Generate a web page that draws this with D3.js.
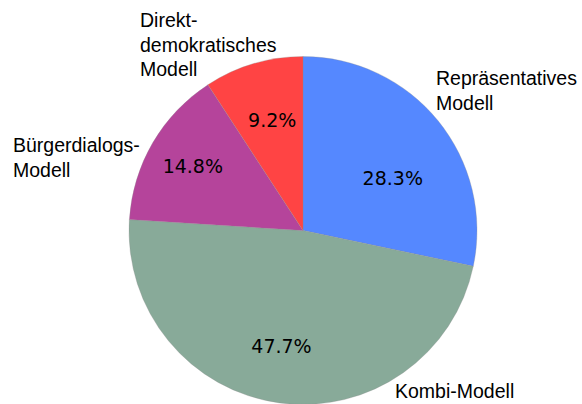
<!DOCTYPE html>
<html>
<head>
<meta charset="utf-8">
<script src="https://cdn.jsdelivr.net/npm/d3@7"></script>
<style>
  html, body { margin: 0; padding: 0; background: #fff; }
  svg { display: block; }
</style>
</head>
<body>
<div id="chart"></div>
<script>
// data
const categories = [
    ["Repräsentatives", "Modell"],
    ["Kombi-Modell"],
    ["Bürgerdialogs-", "Modell"],
    ["Direkt-", "demokratisches", "Modell"]
];
const values = [28.3, 47.7, 14.8, 9.2];
const colors = ["#5588ff", "#88aa99", "#b5449b", "#ff4444"];

const width = 582, height = 404;
const cx = 303, cy = 230.5, radius = 174;

// nudges from the arc centroid for the percent labels (px)
const pctNudge = [[6, 16], [-7, 9], [-17, -10], [0, -7]];
// outer name labels, offsets from the pie centre (px)
const nameOffset = [[133, -145.5], [92, 167.5], [-290, -78.5], [-163, -203.5]];

const svg = d3.select("#chart").append("svg")
    .attr("width", width)
    .attr("height", height);

const g = svg.append("g")
    .attr("transform", `translate(${cx}, ${cy})`);

const pie = d3.pie()
    .sort(null)
    .value(d => d);

const arcs = pie(values);

const arc = d3.arc()
    .innerRadius(0)
    .outerRadius(radius);

const labelArc = d3.arc()
    .innerRadius(radius * 0.62)
    .outerRadius(radius * 0.62);

g.selectAll("path")
    .data(arcs)
    .join("path")
    .attr("d", arc)
    .attr("fill", (d, i) => colors[i])
    .attr("stroke", "#8a8a8a")
    .attr("stroke-width", 0.3);

g.selectAll("text.pct")
    .data(arcs)
    .join("text")
    .attr("class", "pct")
    .attr("transform", (d, i) => {
        const c = labelArc.centroid(d);
        return `translate(${c[0] + pctNudge[i][0]}, ${c[1] + pctNudge[i][1]})`;
    })
    .attr("text-anchor", "middle")
    .attr("dy", "0.36em")
    .style("font-family", "DejaVu Sans, sans-serif")
    .style("font-size", "19px")
    .attr("fill", "#000")
    .text(d => d3.format(".1f")(d.data) + "%");

const names = g.selectAll("text.name")
    .data(categories)
    .join("text")
    .attr("class", "name")
    .attr("x", (d, i) => nameOffset[i][0])
    .attr("y", (d, i) => nameOffset[i][1])
    .style("font-family", "Liberation Sans, Arial, sans-serif")
    .style("font-size", "19.5px")
    .attr("fill", "#000");

names.each(function(d, i) {
    d3.select(this).selectAll("tspan")
        .data(d)
        .join("tspan")
        .attr("x", nameOffset[i][0])
        .attr("dy", (t, j) => j === 0 ? 0 : 24.5)
        .text(t => t);
});
</script>
</body>
</html>
